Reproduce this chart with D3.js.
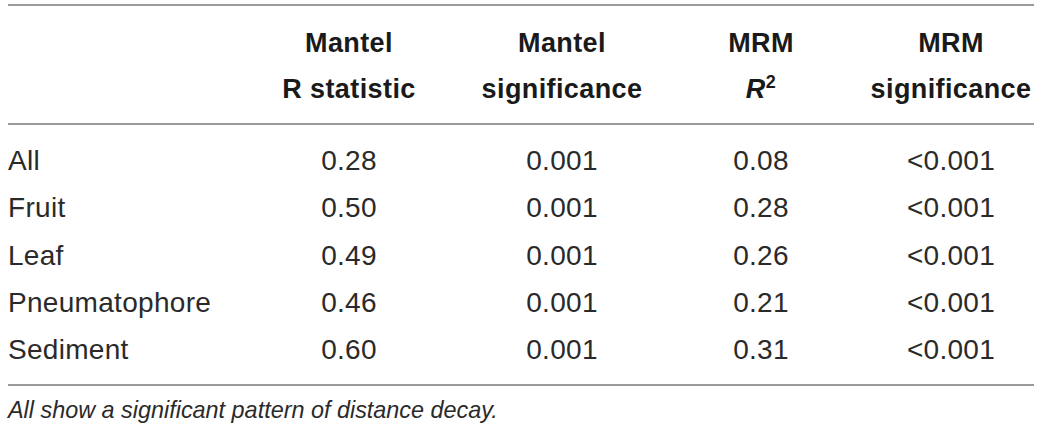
<!DOCTYPE html>
<html>
<head>
<meta charset="utf-8">
<script src="https://cdn.jsdelivr.net/npm/d3@7"></script>
<style>
  html, body { margin: 0; padding: 0; background: #fff; }
  svg { display: block; }
  text { font-family: "Liberation Sans", Arial, sans-serif; }
</style>
</head>
<body>
<svg id="chart" width="1042" height="433"></svg>
<script>
// ---- data ----
const categories = ["All", "Fruit", "Leaf", "Pneumatophore", "Sediment"];
const mantelR = [0.28, 0.50, 0.49, 0.46, 0.60];
const mantelSig = [0.001, 0.001, 0.001, 0.001, 0.001];
const mrmR2 = [0.08, 0.28, 0.26, 0.21, 0.31];
const mrmSig = ["<0.001", "<0.001", "<0.001", "<0.001", "<0.001"];
const columnKeys = ["mantelR", "mantelSig", "mrmR2", "mrmSig"];
const headerLine1 = ["Mantel", "Mantel", "MRM", "MRM"];
const headerLine2 = ["R statistic", "significance", "R2", "significance"];
const footnote = "All show a significant pattern of distance decay.";

// ---- layout ----
const svg = d3.select("#chart");
const left = 8, right = 1034;

const xCol = d3.scaleOrdinal().domain(columnKeys).range([349, 562, 761, 951]);
const yRow = d3.scalePoint().domain(categories).range([170, 359]);

const rows = categories.map((c, i) => ({
  name: c,
  mantelR: d3.format(".2f")(mantelR[i]),
  mantelSig: d3.format(".3f")(mantelSig[i]),
  mrmR2: d3.format(".2f")(mrmR2[i]),
  mrmSig: mrmSig[i]
}));

// rules
const rules = [5, 124, 385];
svg.selectAll("line.rule").data(rules).join("line")
  .attr("class", "rule")
  .attr("x1", left).attr("x2", right)
  .attr("y1", d => d).attr("y2", d => d)
  .attr("stroke", "#9a9a9a").attr("stroke-width", 2);

// header
const hdr = svg.append("g").attr("font-weight", "bold").attr("font-size", 27)
  .attr("fill", "#1a1a1a").attr("text-anchor", "middle");
hdr.selectAll("text.h1").data(columnKeys).join("text")
  .attr("class", "h1")
  .attr("x", d => xCol(d)).attr("y", 52)
  .attr("letter-spacing", 0.4)
  .text((d, i) => headerLine1[i]);
hdr.selectAll("text.h2").data(columnKeys).join("text")
  .attr("class", "h2")
  .attr("x", d => xCol(d)).attr("y", 98)
  .attr("letter-spacing", 0.4)
  .each(function(d, i) {
    const t = d3.select(this);
    const label = headerLine2[i];
    if (label === "R2") {
      t.append("tspan").attr("font-style", "italic").text("R");
      t.append("tspan").attr("font-size", 18).attr("dy", -10).text("2");
    } else {
      t.text(label);
    }
  });

// body
const body = svg.append("g").attr("font-size", 28).attr("fill", "#2a2a2a")
  .attr("letter-spacing", 0.3);
const rowG = body.selectAll("g.row").data(rows).join("g")
  .attr("class", "row")
  .attr("transform", d => `translate(0,${yRow(d.name)})`);
rowG.append("text").attr("x", left).text(d => d.name);
columnKeys.forEach(k => {
  rowG.append("text")
    .attr("x", xCol(k))
    .attr("text-anchor", "middle")
    .text(d => d[k]);
});

// footnote
svg.append("text")
  .attr("x", left).attr("y", 418)
  .attr("font-size", 23.4).attr("font-style", "italic").attr("fill", "#2a2a2a")
  .text(footnote);
</script>
</body>
</html>
